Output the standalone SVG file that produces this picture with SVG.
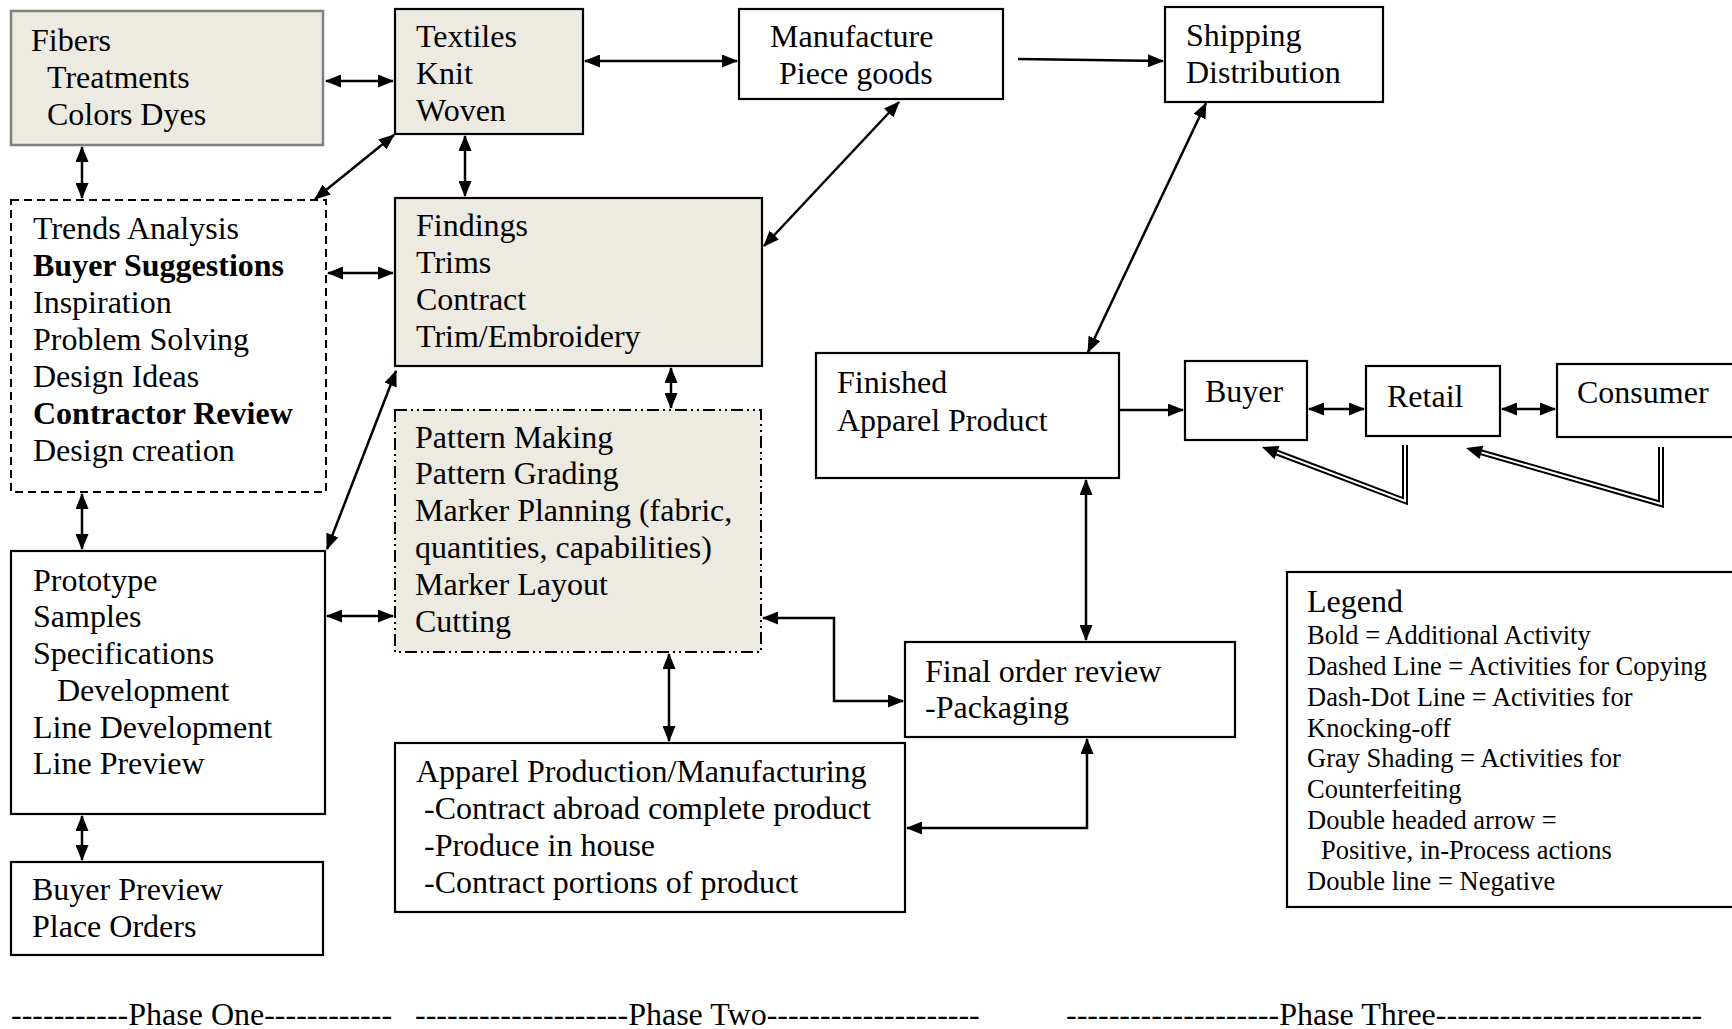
<svg xmlns="http://www.w3.org/2000/svg" width="1732" height="1029" viewBox="0 0 1732 1029">
<style>
text { font-family: "Liberation Serif", "Times New Roman", serif; font-size: 32px; fill: #000; }
.b { font-weight: bold; }
.lg { font-size: 26.5px; }
.box { fill: #fff; stroke: #000; stroke-width: 2.2; }
.shade { fill: #ECEAE1; stroke: #000; stroke-width: 2.2; }
.grayb { fill: #ECEAE1; stroke: #808080; stroke-width: 2.5; }
.dash { fill: #fff; stroke: #000; stroke-width: 2; stroke-dasharray: 8 5; }
.dashdot { fill: #ECEAE1; stroke: #000; stroke-width: 2; stroke-dasharray: 12 4 2 4 2 4; }
.c { fill: none; stroke: #000; stroke-width: 2.5; }
.dbl { marker-start: url(#ah); marker-end: url(#ah); }
.one { marker-end: url(#ah); }
.dl-o { fill: none; stroke: #000; stroke-width: 6; stroke-linejoin: miter; }
.dl-i { fill: none; stroke: #fff; stroke-width: 2; stroke-linejoin: miter; }
</style>
<defs>
<marker id="ah" viewBox="0 0 16 13" refX="15" refY="6.5" markerWidth="16" markerHeight="13" markerUnits="userSpaceOnUse" orient="auto-start-reverse">
<path d="M0,0 L16,6.5 L0,13 z" fill="#000"/>
</marker>
</defs>
<rect width="1732" height="1029" fill="#fff"/>

<g id="connectors">
<line class="c dbl" x1="326" y1="81" x2="393" y2="81"/>
<line class="c dbl" x1="585" y1="61" x2="737" y2="61"/>
<line class="c one" x1="1018" y1="59" x2="1163" y2="61"/>
<line class="c dbl" x1="82" y1="147" x2="82" y2="198"/>
<line class="c dbl" x1="394" y1="135" x2="315" y2="199"/>
<line class="c dbl" x1="465" y1="136" x2="465" y2="196"/>
<line class="c dbl" x1="328" y1="273" x2="393" y2="273"/>
<line class="c dbl" x1="899" y1="102" x2="764" y2="246"/>
<line class="c dbl" x1="1206" y1="103" x2="1088" y2="352"/>
<line class="c dbl" x1="671" y1="368" x2="671" y2="408"/>
<line class="c dbl" x1="82" y1="494" x2="82" y2="549"/>
<line class="c dbl" x1="396" y1="371" x2="327" y2="549"/>
<line class="c dbl" x1="327" y1="616" x2="393" y2="616"/>
<line class="c dbl" x1="82" y1="816" x2="82" y2="860"/>
<line class="c dbl" x1="669" y1="654" x2="669" y2="741"/>
<polyline class="c dbl" points="763,618 834,618 834,701 903,701"/>
<line class="c dbl" x1="1086" y1="480" x2="1086" y2="640"/>
<polyline class="c dbl" points="907,828 1087,828 1087,739"/>
<line class="c one" x1="1120" y1="410" x2="1183" y2="410"/>
<line class="c dbl" x1="1309" y1="409" x2="1364" y2="409"/>
<line class="c dbl" x1="1502" y1="409" x2="1555" y2="409"/>
<g id="negative-arrows">
<polyline class="dl-o" points="1405,445 1405,501 1277,452.6"/>
<polyline class="dl-i" points="1405,445 1405,501 1277,452.6"/>
<polygon points="1262,447 1279.4,446.1 1274.5,459.2" fill="#000"/>
<polyline class="dl-o" points="1661,447 1661,504 1481.4,452.4"/>
<polyline class="dl-i" points="1661,447 1661,504 1481.4,452.4"/>
<polygon points="1466,448 1483.3,445.7 1479.5,459.1" fill="#000"/>
</g>
</g>

<g id="fibers">
<rect class="grayb" x="11" y="11" width="312" height="134"/>
<text x="31" y="51">Fibers</text>
<text x="47" y="88">Treatments</text>
<text x="47" y="125">Colors Dyes</text>
</g>

<g id="textiles">
<rect class="shade" x="395" y="9" width="188" height="125"/>
<text x="416" y="47">Textiles</text>
<text x="416" y="84">Knit</text>
<text x="416" y="121">Woven</text>
</g>

<g id="manufacture">
<rect class="box" x="739" y="9" width="264" height="90"/>
<text x="770" y="47">Manufacture</text>
<text x="779" y="84">Piece goods</text>
</g>

<g id="shipping">
<rect class="box" x="1165" y="7" width="218" height="95"/>
<text x="1186" y="46">Shipping</text>
<text x="1186" y="83">Distribution</text>
</g>

<g id="trends">
<rect class="dash" x="11" y="200" width="315" height="292"/>
<text x="33" y="239">Trends Analysis</text>
<text x="33" y="276" class="b">Buyer Suggestions</text>
<text x="33" y="313">Inspiration</text>
<text x="33" y="350">Problem Solving</text>
<text x="33" y="387">Design Ideas</text>
<text x="33" y="424" class="b">Contractor Review</text>
<text x="33" y="461">Design creation</text>
</g>

<g id="findings">
<rect class="shade" x="395" y="198" width="367" height="168"/>
<text x="416" y="236">Findings</text>
<text x="416" y="273">Trims</text>
<text x="416" y="310">Contract</text>
<text x="416" y="347">Trim/Embroidery</text>
</g>

<g id="pattern">
<rect class="dashdot" x="395" y="410" width="366" height="242"/>
<text x="415" y="448">Pattern Making</text>
<text x="415" y="484">Pattern Grading</text>
<text x="415" y="521">Marker Planning (fabric,</text>
<text x="415" y="558">quantities, capabilities)</text>
<text x="415" y="595">Marker Layout</text>
<text x="415" y="632">Cutting</text>
</g>

<g id="prototype">
<rect class="box" x="11" y="551" width="314" height="263"/>
<text x="33" y="591">Prototype</text>
<text x="33" y="627">Samples</text>
<text x="33" y="664">Specifications</text>
<text x="57" y="701">Development</text>
<text x="33" y="738">Line Development</text>
<text x="33" y="774">Line Preview</text>
</g>

<g id="buyer-preview">
<rect class="box" x="11" y="862" width="312" height="93"/>
<text x="32" y="900">Buyer Preview</text>
<text x="32" y="937">Place Orders</text>
</g>

<g id="apparel-production">
<rect class="box" x="395" y="743" width="510" height="169"/>
<text x="416" y="782">Apparel Production/Manufacturing</text>
<text x="424" y="819">-Contract abroad complete product</text>
<text x="424" y="856">-Produce in house</text>
<text x="424" y="893">-Contract portions of product</text>
</g>

<g id="final-order">
<rect class="box" x="905" y="642" width="330" height="95"/>
<text x="925" y="682">Final order review</text>
<text x="925" y="718">-Packaging</text>
</g>

<g id="finished">
<rect class="box" x="816" y="353" width="303" height="125"/>
<text x="837" y="393">Finished</text>
<text x="837" y="431">Apparel Product</text>
</g>

<g id="buyer">
<rect class="box" x="1185" y="361" width="122" height="79"/>
<text x="1205" y="402">Buyer</text>
</g>

<g id="retail">
<rect class="box" x="1366" y="366" width="134" height="70"/>
<text x="1387" y="407">Retail</text>
</g>

<g id="consumer">
<rect class="box" x="1557" y="364" width="190" height="73"/>
<text x="1577" y="403">Consumer</text>
</g>

<g id="legend">
<rect class="box" x="1287" y="572" width="460" height="335"/>
<text x="1307" y="612">Legend</text>
<text class="lg" x="1307" y="644">Bold = Additional Activity</text>
<text class="lg" x="1307" y="675">Dashed Line = Activities for Copying</text>
<text class="lg" x="1307" y="706">Dash-Dot Line = Activities for</text>
<text class="lg" x="1307" y="737">Knocking-off</text>
<text class="lg" x="1307" y="767">Gray Shading = Activities for</text>
<text class="lg" x="1307" y="798">Counterfeiting</text>
<text class="lg" x="1307" y="829">Double headed arrow =</text>
<text class="lg" x="1321" y="859">Positive, in-Process actions</text>
<text class="lg" x="1307" y="890">Double line = Negative</text>
</g>

<g id="phases">
<text x="11" y="1025">-----------Phase One------------</text>
<text x="415" y="1025">--------------------Phase Two--------------------</text>
<text x="1066" y="1025">--------------------Phase Three-------------------------</text>
</g>
</svg>
